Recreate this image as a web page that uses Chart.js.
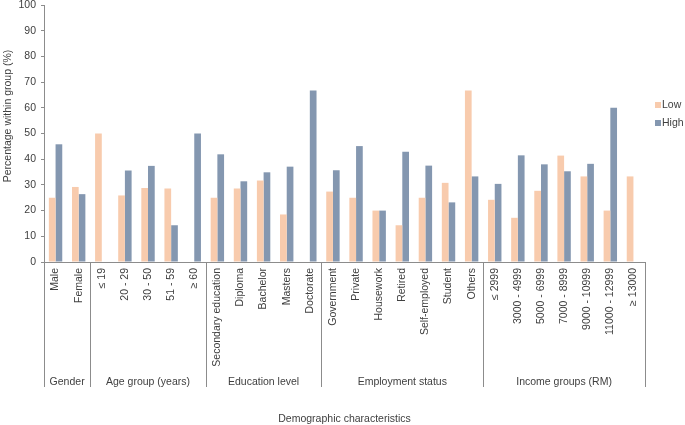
<!DOCTYPE html>
<html>
<head>
<meta charset="utf-8">
<script src="https://cdn.jsdelivr.net/npm/chart.js@4"></script>
<style>
  html, body { margin: 0; padding: 0; background: #fff; }
  #wrap { width: 685px; height: 425px; position: relative; }
</style>
</head>
<body>
<div id="wrap"><canvas id="demoChart"></canvas></div>
<script>
const categories = [
  'Male', 'Female',
  '≤ 19', '20 - 29', '30 - 50', '51 - 59', '≥ 60',
  'Secondary education', 'Diploma', 'Bachelor', 'Masters', 'Doctorate',
  'Government', 'Private', 'Housework', 'Retired', 'Self-employed', 'Student', 'Others',
  '≤ 2999', '3000 - 4999', '5000 - 6999', '7000 - 8999', '9000 - 10999', '11000 - 12999', '≥ 13000'
];
const groupNames = ['Gender', 'Age group (years)', 'Education level', 'Employment status', 'Income groups (RM)'];
const groupSizes = [2, 5, 5, 7, 7];

const lowValues = [25.0, 29.2, 50.0, 25.9, 28.8, 28.6, 0, 25.0, 28.6, 31.7, 18.5, 0,
  27.4, 25.0, 20.0, 14.3, 25.0, 30.8, 66.7, 24.2, 17.2, 27.7, 41.4, 33.3, 20.0, 33.3];
const highValues = [45.8, 26.4, 0, 35.6, 37.4, 14.3, 50.0, 41.9, 31.4, 34.9, 37.1, 66.7,
  35.7, 45.1, 20.0, 42.9, 37.5, 23.2, 33.3, 30.4, 41.5, 38.0, 35.3, 38.2, 60.0, 0];

const yTicks = [0, 10, 20, 30, 40, 50, 60, 70, 80, 90, 100];

const textColor = '#404040';
const lineColor = '#8c8c8c';
const font = 'Liberation Sans, Arial, sans-serif';
const fontSize = 10.5;

// group dividers, group names, y title and legend
const decorations = {
  id: 'decorations',
  afterDraw(chart) {
    const ctx = chart.ctx;
    const x = chart.scales.x;
    const area = chart.chartArea;
    const lineBottom = 387;
    ctx.save();
    ctx.strokeStyle = lineColor;
    ctx.lineWidth = 1;

    const edges = [area.left];
    let idx = 0;
    groupSizes.forEach((n) => {
      idx += n;
      if (idx < categories.length) {
        edges.push((x.getPixelForValue(idx - 1) + x.getPixelForValue(idx)) / 2);
      } else {
        edges.push(area.right);
      }
    });
    edges.forEach(px => {
      const p = Math.round(px) + 0.5;
      ctx.beginPath();
      ctx.moveTo(p, area.bottom);
      ctx.lineTo(p, lineBottom);
      ctx.stroke();
    });

    ctx.fillStyle = textColor;
    ctx.font = fontSize + 'px ' + font;
    ctx.textAlign = 'center';
    ctx.textBaseline = 'middle';
    groupNames.forEach((name, g) => {
      ctx.fillText(name, (edges[g] + edges[g + 1]) / 2, 382);
    });

    // y axis title
    ctx.save();
    ctx.translate(8, 116);
    ctx.rotate(-Math.PI / 2);
    ctx.fillText('Percentage within group (%)', 0, 0);
    ctx.restore();

    // legend
    ctx.textAlign = 'left';
    chart.data.datasets.forEach((ds, i) => {
      const cy = 105 + i * 18;
      ctx.fillStyle = ds.backgroundColor;
      ctx.fillRect(655, cy - 3, 6, 6);
      ctx.fillStyle = textColor;
      ctx.fillText(ds.label, 662, cy + 0.5);
    });
    ctx.restore();
  }
};

const ctx = document.getElementById('demoChart').getContext('2d');
new Chart(ctx, {
  type: 'bar',
  data: {
    labels: categories,
    datasets: [
      {
        label: 'Low',
        data: lowValues,
        backgroundColor: '#F8CBAD',
        borderWidth: 0,
        categoryPercentage: 0.58,
        barPercentage: 1.0,
      },
      {
        label: 'High',
        data: highValues,
        backgroundColor: '#8497B0',
        borderWidth: 0,
        categoryPercentage: 0.58,
        barPercentage: 1.0,
      },
    ],
  },
  options: {
    responsive: true,
    maintainAspectRatio: false,
    animation: false,
    layout: {
      padding: { top: 5, right: 40, bottom: 0, left: 0 },
    },
    plugins: {
      legend: { display: false },
      tooltip: { enabled: false },
    },
    scales: {
      x: {
        grid: { display: false, drawTicks: false },
        border: { display: true, color: lineColor },
        ticks: {
          autoSkip: false,
          minRotation: 90,
          maxRotation: 90,
          padding: 6,
          color: textColor,
          font: { family: font, size: fontSize },
        },
        title: {
          display: true,
          text: 'Demographic characteristics',
          color: textColor,
          font: { family: font, size: fontSize },
          padding: { top: 0, bottom: 0 },
        },
        afterFit: (scale) => {
          scale.height = 163;
        },
      },
      y: {
        min: 0,
        max: 100,
        afterBuildTicks: (scale) => {
          scale.ticks = yTicks.map(v => ({ value: v }));
        },
        grid: { drawOnChartArea: false, drawTicks: true, tickLength: 3, color: lineColor },
        border: { display: true, color: lineColor },
        ticks: {
          padding: 5,
          color: textColor,
          font: { family: font, size: fontSize },
        },
        afterFit: (scale) => {
          scale.width = 44;
          scale.paddingTop = 0;
          scale.paddingBottom = 0;
        },
      },
    },
  },
  plugins: [decorations],
});
</script>
</body>
</html>
